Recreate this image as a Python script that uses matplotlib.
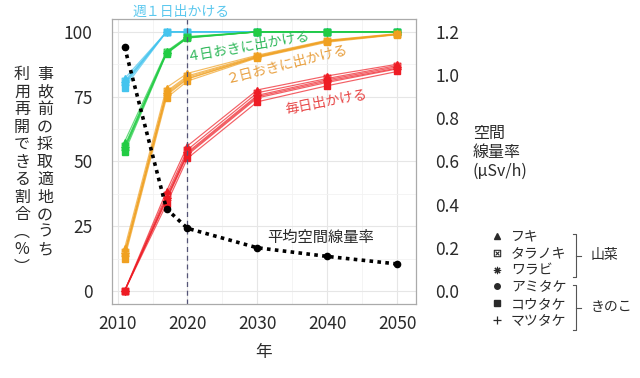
import matplotlib
matplotlib.use("Agg")
import matplotlib.pyplot as plt
from matplotlib.lines import Line2D
from matplotlib.path import Path

plt.rcParams["font.family"] = ["Noto Sans CJK JP", "DejaVu Sans"]

# --- data -------------------------------------------------------------------
years = [2011, 2017, 2020, 2030, 2040, 2050]
species = ["フキ", "タラノキ", "ワラビ", "アミタケ", "コウタケ", "マツタケ"]

# rows follow the species order above
once_a_week = [
    [82.0, 100, 100, 100, 100, 100],
    [81.0, 100, 100, 100, 100, 100],
    [80.5, 100, 100, 100, 100, 100],
    [80.0, 100, 100, 100, 100, 100],
    [78.5, 100, 100, 100, 100, 100],
    [79.5, 100, 100, 100, 100, 100],
]
every_4_days = [
    [57.6, 92.5, 98.2, 100, 100, 100],
    [56.0, 92.2, 98.0, 100, 100, 100],
    [55.5, 92.0, 97.9, 100, 100, 100],
    [55.0, 91.8, 97.8, 100, 100, 100],
    [53.5, 91.5, 97.6, 100, 100, 100],
    [54.5, 91.7, 97.7, 100, 100, 100],
]
every_2_days = [
    [16.5, 78.5, 84.0, 91.0, 96.8, 99.3],
    [15.0, 77.0, 83.0, 90.7, 96.6, 99.2],
    [14.5, 76.5, 82.5, 90.5, 96.5, 99.1],
    [14.0, 76.0, 82.0, 90.3, 96.4, 99.0],
    [12.5, 74.5, 81.0, 90.0, 96.0, 98.9],
    [13.5, 75.5, 81.8, 90.2, 96.3, 99.0],
]
every_day = [
    [0.0, 38.5, 56.0, 77.6, 83.0, 87.5],
    [0.0, 37.0, 54.5, 76.5, 82.0, 87.0],
    [0.0, 36.0, 53.5, 75.5, 81.5, 86.5],
    [0.0, 35.5, 53.0, 75.0, 81.0, 86.0],
    [0.0, 33.5, 51.2, 73.0, 79.2, 84.7],
    [0.0, 35.0, 52.5, 74.5, 80.5, 85.7],
]
dose_rate = [1.13, 0.38, 0.29, 0.20, 0.16, 0.125]

groups = [
    (once_a_week, "#44c4ee", "週１日出かける"),
    (every_4_days, "#22cc44", "４日おきに出かける"),
    (every_2_days, "#f0a020", "２日おきに出かける"),
    (every_day, "#ee1c24", "毎日出かける"),
]

# boxed-x marker (square with a cross inside)
boxx = Path(
    [(-1, -1), (1, -1), (1, 1), (-1, 1), (-1, -1),
     (-0.6, -0.6), (0.6, 0.6), (-0.6, 0.6), (0.6, -0.6)],
    [Path.MOVETO, Path.LINETO, Path.LINETO, Path.LINETO, Path.CLOSEPOLY,
     Path.MOVETO, Path.LINETO, Path.MOVETO, Path.LINETO],
)
markers = [
    dict(marker="^", ms=4.8),
    dict(marker=boxx, ms=4.8, mfc="none", mew=0.8),
    dict(marker=(8, 2, 0), ms=5.5, mew=0.8),
    dict(marker="o", ms=4.2),
    dict(marker="s", ms=4.2),
    dict(marker="+", ms=5.5, mew=0.9),
]

# --- figure -------------------------------------------------------------------
fig = plt.figure(figsize=(6.4, 3.78), dpi=100)
ax = fig.add_axes([0.175, 0.196, 0.475, 0.754])

for data, color, _ in groups:
    for row, mk in zip(data, markers):
        ax.plot(years, row, color=color, lw=0.85, alpha=0.7)
        ax.plot(years, row, color=color, linestyle="none", **mk)

ax.axvline(2020, color="#555577", lw=0.9, ls=(0, (4, 3)))

ax.set_xlim(2009.2, 2052.7)
ax.set_ylim(-5, 105)
ax.set_xticks([2010, 2020, 2030, 2040, 2050])
ax.set_xticks([2015, 2025, 2035, 2045], minor=True)
ax.set_yticks([0, 25, 50, 75, 100])
ax.set_yticks([12.5, 37.5, 62.5, 87.5], minor=True)
ax.grid(which="major", color="#e6e6e6", lw=0.8)
ax.grid(which="minor", color="#f2f2f2", lw=0.6)
ax.set_axisbelow(True)
for s in ax.spines.values():
    s.set_color("#aaaaaa")
    s.set_linewidth(0.9)
ax.tick_params(which="both", length=0, labelsize=12.5, labelcolor="#2a2a2a", pad=8)
ax.tick_params(axis="y", pad=14)
ax.set_xlabel("年", fontsize=12, color="#2a2a2a", labelpad=8)

ax2 = ax.twinx()
ax2.plot(years, dose_rate, color="black", lw=2.6, ls=(0, (1, 1.2)),
         marker="o", ms=4.5)
ax2.set_ylim(-0.06, 1.26)
ax2.set_yticks([0.0, 0.2, 0.4, 0.6, 0.8, 1.0, 1.2])
ax2.set_yticklabels([f"{v:.1f}" for v in [0.0, 0.2, 0.4, 0.6, 0.8, 1.0, 1.2]])
ax2.tick_params(length=0, labelsize=12.5, labelcolor="#2a2a2a", pad=14)
for s in ax2.spines.values():
    s.set_visible(False)

# --- annotations ----------------------------------------------------------------
ax.text(2019.1, 107.7, groups[0][2], color="#5cc8ee", fontsize=10,
        ha="center", va="center", clip_on=False)
ax.text(2028.7, 94.6, groups[1][2], color="#2fb85a", fontsize=10,
        ha="center", va="center", rotation=10)
ax.text(2034.2, 87.6, groups[2][2], color="#e8a040", fontsize=10,
        ha="center", va="center", rotation=14)
ax.text(2039.8, 73.0, groups[3][2], color="#e84848", fontsize=10,
        ha="center", va="center", rotation=11)
ax.text(2039.1, 20.8, "平均空間線量率", color="#2a2a2a", fontsize=11,
        ha="center", va="center")

# left y label: two vertical columns
col1 = "事故前の採取適地のうち"
col2 = "利用再開できる割合︵%︶"
fig.text(45 / 640, 1 - 66 / 378, "\n".join(col1), fontsize=11.5, color="#2a2a2a",
         ha="center", va="top", linespacing=1.04)
fig.text(22 / 640, 1 - 66 / 378, "\n".join(col2), fontsize=11.5, color="#2a2a2a",
         ha="center", va="top", linespacing=1.04)

# right axis label
fig.text(473 / 640, 1 - 152 / 378, "空間\n線量率\n(μSv/h)", fontsize=11.5,
         color="#2a2a2a", ha="left", va="center", linespacing=1.15)

# species legend
handles = []
for mk in markers:
    kw = dict(mk)
    kw["ms"] = kw["ms"] * 0.95
    handles.append(Line2D([], [], color="#2a2a2a", linestyle="none", **kw))
fig.legend(handles, species, loc="upper left", bbox_to_anchor=(490 / 640, 1 - 230 / 378),
           frameon=False, fontsize=10, handlelength=1.0, handletextpad=0.5,
           labelspacing=0.2, borderpad=0, borderaxespad=0,
           labelcolor="#2a2a2a")

# brackets
for y0, y1, label, lx in [(234, 277, "山菜", 591), (285, 330, "きのこ", 591)]:
    bx = 576 / 640
    fy0, fy1 = 1 - y0 / 378, 1 - y1 / 378
    fig.add_artist(Line2D([bx - 3 / 640, bx, bx, bx - 3 / 640], [fy0, fy0, fy1, fy1],
                          transform=fig.transFigure, color="#555555", lw=0.8))
    fm = (fy0 + fy1) / 2
    fig.add_artist(Line2D([bx, bx + 5 / 640], [fm, fm],
                          transform=fig.transFigure, color="#555555", lw=0.8))
    fig.text(lx / 640, fm, label, fontsize=10, color="#2a2a2a", ha="left", va="center")

fig.savefig("out.png", dpi=100)
